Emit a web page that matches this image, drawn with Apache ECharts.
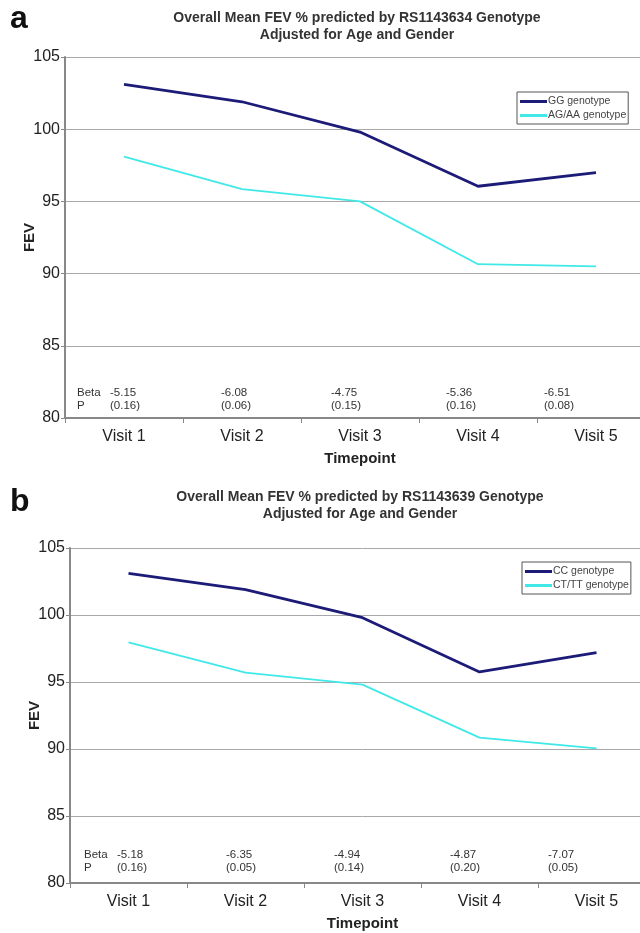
<!DOCTYPE html>
<html><head><meta charset="utf-8">
<script src="https://cdn.jsdelivr.net/npm/echarts@6/dist/echarts.min.js"></script>
<style>html,body{margin:0;padding:0;background:#fff;overflow:hidden;width:640px;height:933px}#c{width:655px;height:933px}</style>
</head><body><div id="c"></div>
<script>
const categories = ['Visit 1','Visit 2','Visit 3','Visit 4','Visit 5'];
const yTicks = [80,85,90,95,100,105];
const gg = [103.1, 101.9, 99.8, 96.05, 97.0];
const agaa = [98.1, 95.85, 95.0, 90.65, 90.5];
const cc = [103.1, 101.9, 99.8, 95.75, 97.2];
const cttt = [97.95, 95.7, 94.8, 90.85, 90.05];
const betaA = ['-5.15','-6.08','-4.75','-5.36','-6.51'];
const pA = ['(0.16)','(0.06)','(0.15)','(0.16)','(0.08)'];
const betaB = ['-5.18','-6.35','-4.94','-4.87','-7.07'];
const pB = ['(0.16)','(0.05)','(0.14)','(0.20)','(0.05)'];

const FONT = 'Liberation Sans, Arial, sans-serif';
const chart = echarts.init(document.getElementById('c'));
const navy = '#1c1c78', cyan = '#40e8e8';

function yAxis(gi){
  return {gridIndex:gi, type:'value', min:yTicks[0], max:yTicks[yTicks.length-1], interval:5,
    name:'FEV', nameLocation:'middle', nameGap:28, nameMoveOverlap:false,
    nameTextStyle:{fontFamily:FONT,fontWeight:'bold',fontSize:15,color:'#222'},
    axisLine:{show:true,lineStyle:{color:'#888',width:2}},
    axisTick:{show:true,length:4,lineStyle:{color:'#888'}},
    axisLabel:{fontFamily:FONT,fontSize:16,color:'#222',margin:5},
    splitLine:{lineStyle:{color:'#a8a8a8',width:1}}};
}
function xAxis(gi){
  return {gridIndex:gi, type:'category', data:categories, boundaryGap:true,
    name:'Timepoint', nameLocation:'middle', nameGap:33,
    nameTextStyle:{fontFamily:FONT,fontWeight:'bold',fontSize:15,color:'#222'},
    axisLine:{lineStyle:{color:'#888',width:2}},
    axisTick:{show:true,length:5,lineStyle:{color:'#888'}},
    axisLabel:{fontFamily:FONT,fontSize:16,color:'#222',margin:11}};
}
function annot(betas, ps, xs, yBeta, xLabel){
  const f = '11.5px '+FONT;
  const els = [
    {type:'text', left:xLabel, top:yBeta, style:{text:'Beta', font:f, fill:'#333'}},
    {type:'text', left:xLabel, top:yBeta+13, style:{text:'P', font:f, fill:'#333'}}
  ];
  betas.forEach((b,i)=>{
    els.push({type:'text', left:xs[i], top:yBeta, style:{text:b, font:f, fill:'#333'}});
    els.push({type:'text', left:xs[i], top:yBeta+13, style:{text:ps[i], font:f, fill:'#333'}});
  });
  return els;
}
const lineSeries = (name, data, gi, color, w) => ({name, type:'line', data, xAxisIndex:gi, yAxisIndex:gi,
  symbol:'none', lineStyle:{color, width:w}, itemStyle:{color}});
const legendText = {fontFamily:FONT,fontSize:10.5,color:'#444',padding:[0,0,0,-4]};

chart.setOption({
  animation:false,
  title:[
    {text:'Overall Mean FEV % predicted by RS1143634 Genotype\nAdjusted for Age and Gender', left:352, top:5, textAlign:'center',
      textStyle:{fontFamily:FONT,fontWeight:'bold',fontSize:14,color:'#333',lineHeight:17}},
    {text:'Overall Mean FEV % predicted by RS1143639 Genotype\nAdjusted for Age and Gender', left:355, top:484, textAlign:'center',
      textStyle:{fontFamily:FONT,fontWeight:'bold',fontSize:14,color:'#333',lineHeight:17}}
  ],
  legend:[
    {data:['GG genotype','AG/AA genotype'], orient:'vertical', left:517, top:92, itemWidth:27, itemHeight:3, itemGap:3,
      icon:'rect', borderColor:'#555', borderWidth:1, padding:[4,2,3,3], textStyle:legendText},
    {data:['CC genotype','CT/TT genotype'], orient:'vertical', left:522, top:562, itemWidth:27, itemHeight:3, itemGap:3,
      icon:'rect', borderColor:'#555', borderWidth:1, padding:[4,2,3,3], textStyle:legendText}
  ],
  grid:[
    {left:65, right:0, top:57, bottom:515},
    {left:70, right:0, top:548, bottom:50}
  ],
  xAxis:[xAxis(0), xAxis(1)],
  yAxis:[yAxis(0), yAxis(1)],
  series:[
    lineSeries('GG genotype', gg, 0, navy, 2.8),
    lineSeries('AG/AA genotype', agaa, 0, cyan, 1.8),
    lineSeries('CC genotype', cc, 1, navy, 2.8),
    lineSeries('CT/TT genotype', cttt, 1, cyan, 1.8)
  ],
  graphic:[
    {type:'text', left:10, top:3, style:{text:'a', font:'bold 32px '+FONT, fill:'#111'}},
    {type:'text', left:10, top:486, style:{text:'b', font:'bold 32px '+FONT, fill:'#111'}},
    ...annot(betaA, pA, [110,221,331,446,544], 387, 77),
    ...annot(betaB, pB, [117,226,334,450,548], 849, 84)
  ]
});
</script></body></html>
